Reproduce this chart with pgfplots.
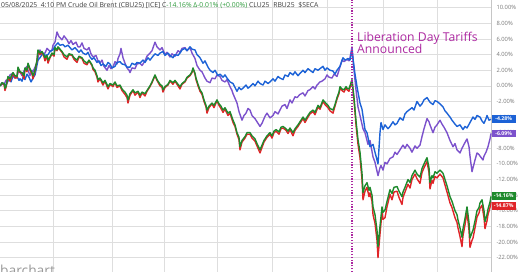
\documentclass[border=0pt]{standalone}
\usepackage{fontspec}
\setmainfont{Open Sans}
\usepackage{pgfplots}
\pgfplotsset{compat=1.18}
\definecolor{cblue}{RGB}{28,98,214}
\definecolor{cpurple}{RGB}{124,82,204}
\definecolor{cgreen}{RGB}{30,138,44}
\definecolor{cred}{RGB}{224,36,40}
\definecolor{cmag}{RGB}{172,40,160}
\definecolor{gridc}{RGB}{222,222,222}
\definecolor{tickc}{RGB}{120,120,120}
\definecolor{hdr}{RGB}{60,60,60}
\definecolor{hgreen}{RGB}{46,154,60}
\begin{document}
\begin{tikzpicture}
\path[use as bounding box] (0pt,0pt) rectangle (520pt,272pt);
\begin{axis}[at={(0pt,0pt)}, anchor=south west, scale only axis,
  width=491pt, height=272pt,
  xmin=0, xmax=491, ymin=-23.85, ymax=11,
  axis line style={draw=none},
  xtick={53,112,164,217,272,327,383,437}, xticklabels={},
  ytick={-22,-20,...,10},
  yticklabel pos=right,
  /pgf/number format/assume math mode=true,
  yticklabel={\pgfmathprintnumber[fixed,fixed zerofill,precision=2,assume math mode=true]{\tick}\%},
  yticklabel style={font=\fontsize{5.8}{7}\selectfont, text=tickc, anchor=west, xshift=2pt},
  major tick length=0pt,
  grid=major, major grid style={gridc, line width=0.6pt},
  clip=false,
  every axis plot/.append style={line width=1.4pt, line join=round},
]
\draw[gray!45, line width=0.6pt] (axis cs:491,-23.85) -- (axis cs:491,11);
% purple
\addplot[cpurple] coordinates {
(0,0) (2,0.4) (4,0.2) (6,0.7) (8,0.8) (10,1.4) (13,1.6) (15,1.1) (17,1.3) (19,2.0) (20,1.8) (22,1.3) (23,1.6) (25,2.2) (27,2.5) (28,2.0) (30,1.3) (32,2.0) (33,1.8) (35,2.4) (37,3.0) (39,4.2) (40,4.6) (42,4.0) (45,4.2) (47,4.8) (50,4.4) (52,4.6) (53,5.2) (55,5.6) (57,6.9) (59,6.3) (62,5.9) (64,6.4) (67,5.9) (69,5.4) (71,5.8) (73,5.3) (76,5.6) (78,5.0) (80,5.0) (82,5.5) (84,4.8) (87,4.6) (89,4.9) (91,4.1) (93,3.7) (96,3.9) (98,3.2) (100,2.9) (102,3.3) (104,2.5) (107,2.0) (109,2.6) (111,2.2) (113,2.4) (115,3.1) (117,2.8) (118,3.5) (120,4.1) (121,4.8) (123,3.6) (125,2.9) (127,2.3) (129,2.0) (130,1.7) (132,2.3) (135,2.2) (137,2.8) (140,2.9) (142,2.6) (145,3.2) (147,3.8) (150,4.2) (152,4.5) (155,5.6) (157,5.0) (160,4.6) (162,4.9) (165,4.0) (167,4.3) (170,3.7) (172,4.1) (175,3.8) (178,4.5) (180,4.3) (182,4.8) (185,4.9) (187,4.5) (190,4.9) (192,4.2) (195,3.5) (197,2.6) (200,2.0) (202,1.8) (205,1.0) (207,0.6) (210,0.4) (212,1.0) (215,0.9) (217,1.4) (220,1.2) (222,0.7) (225,0.5) (227,0.8) (230,-0.1) (232,-0.6) (233,-1.0) (235,-1.6) (237,-2.2) (239,-3.3) (242,-4.4) (244,-3.8) (246,-3.5) (248,-2.9) (250,-3.1) (252,-3.8) (255,-4.2) (257,-4.6) (260,-5.2) (262,-4.8) (263,-4.5) (265,-3.9) (267,-3.5) (270,-4.1) (273,-3.8) (275,-3.3) (278,-3.6) (280,-3.1) (282,-2.6) (285,-2.4) (287,-2.9) (290,-1.8) (292,-2.2) (295,-1.4) (297,-1.5) (300,-1.1) (303,-0.9) (305,-1.3) (308,-0.6) (310,-0.5) (313,-0.1) (315,-0.4) (317,0.1) (320,0.5) (322,0.6) (325,0.9) (327,1.4) (329,1.1) (332,1.0) (334,1.5) (337,1.2) (339,2.0) (342,3.3) (344,3.1) (347,3.4) (349,3.2) (350,3.6) (352,5.0) (354,2.0) (356,-0.5) (358,-2.7) (360,-3.8) (363,-5.5) (365,-6.0) (368,-7.5) (370,-7.0) (373,-9.1) (375,-9.8) (378,-11.5) (380,-10.5) (381,-10.2) (383,-10.8) (385,-9.8) (387,-10.0) (390,-9.3) (393,-9.1) (395,-8.5) (397,-8.8) (400,-8.2) (403,-7.6) (405,-8.0) (407,-7.5) (410,-8.0) (412,-8.5) (415,-7.7) (417,-8.0) (420,-7.6) (422,-6.5) (424,-5.5) (427,-4.2) (429,-4.6) (430,-5.0) (433,-6.0) (435,-5.3) (437,-5.0) (440,-4.4) (442,-4.9) (444,-5.3) (447,-6.0) (450,-7.0) (453,-7.8) (455,-7.4) (457,-8.2) (460,-8.6) (462,-8.0) (464,-7.5) (467,-6.8) (469,-7.8) (470,-9.0) (472,-11.0) (474,-10.0) (475,-9.5) (477,-8.6) (479,-8.8) (480,-9.0) (483,-9.5) (484,-9.0) (486,-8.5) (488,-7.8) (490,-6.8) (491,-6.09)
};
% blue
\addplot[cblue] coordinates {
(0,0) (2,0.2) (4,0.3) (6,0.1) (8,0.6) (10,0.8) (11,0.5) (13,1.3) (15,1.0) (17,1.2) (19,0.7) (20,0.9) (22,0.6) (23,1.1) (25,0.8) (27,1.5) (29,1.1) (30,0.8) (31,0.5) (33,1.0) (35,1.4) (36,2.0) (38,3.3) (40,3.6) (43,4.2) (45,3.9) (48,4.0) (50,4.4) (53,4.6) (55,5.1) (58,5.5) (60,5.2) (63,5.3) (65,5.0) (68,5.2) (70,4.9) (72,4.6) (75,4.9) (77,4.6) (79,4.3) (81,4.6) (83,4.2) (86,4.0) (88,4.3) (90,3.7) (92,3.4) (94,3.6) (97,3.0) (99,3.2) (101,2.6) (103,2.8) (106,2.5) (108,3.0) (110,2.8) (112,2.3) (115,2.5) (117,3.0) (120,3.1) (122,2.8) (125,2.7) (127,2.4) (130,2.4) (132,2.9) (135,2.7) (137,3.0) (140,2.9) (143,3.3) (145,3.0) (148,3.6) (150,3.3) (153,3.8) (155,4.1) (158,3.9) (160,4.2) (163,4.4) (165,3.9) (168,4.2) (170,3.9) (173,3.6) (175,4.0) (178,3.9) (180,4.2) (182,4.6) (185,4.8) (187,4.5) (190,5.0) (192,4.7) (195,4.6) (197,4.0) (200,3.6) (203,2.9) (205,3.2) (208,2.4) (210,2.0) (213,1.7) (215,2.0) (218,1.3) (220,1.5) (223,1.1) (225,1.4) (227,1.0) (230,0.5) (233,0.3) (235,-0.2) (237,-0.7) (239,-0.2) (241,-0.5) (243,-0.3) (246,0.1) (248,-0.3) (250,-0.1) (253,0.3) (255,0.0) (258,0.6) (260,0.3) (263,0.1) (265,0.6) (268,0.3) (270,0.5) (273,0.9) (275,0.6) (278,1.2) (280,1.0) (283,0.8) (285,1.4) (288,1.2) (290,1.7) (293,1.4) (295,1.8) (298,1.3) (300,1.6) (303,2.0) (305,1.7) (308,2.2) (310,2.0) (313,1.7) (315,2.2) (318,2.0) (320,2.2) (323,2.5) (325,2.0) (327,2.3) (330,2.0) (333,1.9) (335,1.5) (337,2.0) (340,2.5) (343,3.6) (345,3.3) (348,3.5) (350,3.3) (352,4.5) (355,1.5) (357,-0.1) (360,-2.2) (362,-3.0) (365,-5.6) (367,-6.0) (370,-7.8) (373,-7.5) (375,-8.5) (378,-10.0) (380,-6.0) (381,-4.7) (383,-5.6) (385,-5.0) (388,-5.5) (390,-5.2) (393,-4.6) (395,-5.0) (397,-4.8) (400,-4.1) (403,-4.4) (405,-3.6) (407,-3.3) (410,-3.0) (412,-2.8) (414,-3.1) (417,-2.0) (420,-2.6) (422,-2.3) (424,-1.8) (427,-1.5) (430,-2.1) (433,-2.4) (435,-1.9) (437,-2.0) (440,-2.3) (443,-2.7) (445,-3.2) (447,-3.5) (450,-4.0) (452,-4.4) (455,-4.9) (457,-5.2) (460,-5.0) (463,-5.6) (465,-5.2) (467,-5.4) (470,-4.7) (473,-4.0) (475,-4.3) (477,-3.8) (480,-4.0) (482,-4.5) (484,-4.8) (486,-4.2) (487,-3.8) (489,-4.4) (491,-4.28)
};
% red
\addplot[cred] coordinates {
(0,0) (2,0.3) (4,0.2) (5,-0.6) (6,-0.2) (8,1.1) (10,0.6) (13,1.6) (15,1.0) (17,1.0) (18,2.3) (20,1.7) (22,1.6) (24,0.9) (25,2.2) (27,1.8) (28,2.8) (30,2.0) (32,1.5) (33,0.9) (35,1.9) (37,3.2) (38,4.5) (40,4.0) (42,4.3) (44,3.7) (45,3.2) (47,3.8) (48,2.9) (50,3.6) (52,4.1) (54,3.8) (55,4.8) (57,4.5) (58,4.9) (60,4.6) (62,4.3) (64,3.7) (67,3.4) (69,4.0) (72,3.9) (74,3.4) (77,3.0) (79,3.7) (82,3.5) (84,2.9) (87,2.7) (89,3.2) (92,2.6) (93,2.1) (95,1.8) (97,1.1) (98,0.5) (100,0.9) (103,0.1) (105,0.6) (108,-0.4) (110,0.2) (113,-0.1) (115,0.4) (117,-0.2) (120,0.0) (122,-0.6) (125,-1.1) (127,-1.5) (128,-2.2) (130,-1.2) (133,-0.6) (135,-1.2) (138,-0.8) (140,-1.5) (142,-0.9) (145,-1.3) (147,-0.7) (150,-0.1) (152,0.4) (155,1.3) (157,0.7) (160,0.0) (162,-0.2) (163,-0.8) (165,-0.2) (168,0.1) (170,0.6) (173,0.2) (175,0.6) (178,0.0) (180,-0.4) (182,0.2) (185,0.5) (187,1.0) (190,1.3) (192,1.7) (193,2.2) (195,1.5) (196,0.8) (198,0.0) (200,-0.7) (202,-1.1) (204,-2.0) (206,-2.7) (207,-3.5) (209,-2.8) (212,-2.3) (214,-2.8) (217,-1.9) (219,-2.5) (221,-2.9) (223,-3.4) (225,-3.0) (228,-3.8) (230,-3.5) (233,-4.7) (235,-5.2) (237,-6.2) (239,-6.9) (240,-8.2) (242,-7.2) (245,-6.7) (247,-6.2) (250,-6.2) (252,-6.7) (255,-7.1) (257,-7.7) (260,-8.6) (262,-7.9) (264,-7.2) (267,-6.6) (270,-6.2) (272,-6.7) (274,-6.0) (276,-5.8) (279,-6.2) (281,-5.5) (283,-5.4) (286,-5.7) (288,-6.1) (290,-5.6) (293,-6.4) (295,-5.7) (298,-5.2) (300,-4.8) (303,-4.2) (305,-4.7) (308,-4.0) (310,-3.6) (313,-3.3) (315,-3.7) (318,-2.7) (320,-3.0) (323,-2.0) (325,-2.4) (328,-2.8) (330,-3.2) (333,-3.5) (335,-2.6) (337,-1.7) (339,-1.0) (340,-0.3) (342,-0.6) (344,-0.8) (346,-0.3) (347,-0.5) (349,-0.7) (350,-0.2) (352,0.6) (354,-1.8) (356,-5.0) (358,-7.5) (360,-9.2) (362,-12.0) (363,-14.6) (365,-13.5) (367,-13.0) (369,-14.2) (370,-13.7) (372,-14.8) (373,-16.5) (375,-17.6) (377,-19.8) (378,-22.0) (380,-19.0) (382,-16.2) (383,-17.1) (385,-16.9) (387,-15.5) (390,-13.9) (392,-14.6) (394,-13.6) (397,-13.5) (399,-14.3) (402,-15.2) (403,-14.3) (405,-13.6) (408,-12.6) (410,-13.1) (412,-12.0) (415,-11.3) (417,-11.9) (420,-12.5) (422,-11.1) (424,-10.5) (427,-9.7) (429,-11.1) (430,-13.2) (432,-12.1) (433,-12.5) (435,-11.6) (437,-11.8) (440,-11.3) (443,-11.8) (445,-12.7) (447,-13.6) (450,-15.0) (452,-15.6) (455,-16.9) (457,-17.5) (458,-18.2) (460,-19.3) (462,-20.6) (463,-19.2) (465,-17.8) (467,-16.2) (469,-18.5) (470,-20.7) (472,-19.8) (473,-19.5) (475,-18.2) (477,-16.8) (479,-16.3) (480,-15.7) (482,-15.3) (484,-16.9) (485,-18.3) (487,-17.3) (488,-16.5) (490,-15.6) (491,-14.87)
};
% green
\addplot[cgreen] coordinates {
(0,0) (2,0.4) (4,0.3) (5,-0.3) (6,-0.1) (8,1.2) (10,0.9) (13,1.7) (15,1.3) (17,1.2) (18,2.4) (20,1.8) (22,1.7) (24,1.3) (25,2.3) (27,2.0) (28,2.9) (30,2.2) (32,1.7) (33,1.3) (35,2.0) (37,3.3) (38,4.6) (40,4.2) (42,4.4) (44,3.9) (45,3.6) (47,3.9) (48,3.3) (50,3.7) (52,4.2) (54,4.0) (55,4.9) (57,4.6) (58,5.0) (60,4.7) (62,4.4) (64,4.0) (67,3.7) (69,4.1) (72,4.0) (74,3.6) (77,3.3) (79,3.8) (82,3.6) (84,3.2) (87,2.9) (89,3.3) (92,2.7) (93,2.3) (95,2.0) (97,1.3) (98,0.8) (100,1.0) (103,0.4) (105,0.7) (108,-0.1) (110,0.3) (113,0.1) (115,0.5) (117,0.0) (120,0.1) (122,-0.4) (125,-0.8) (127,-1.2) (128,-1.8) (130,-1.0) (133,-0.5) (135,-0.9) (138,-0.7) (140,-1.2) (142,-0.8) (145,-1.0) (147,-0.6) (150,0.0) (152,0.5) (155,1.4) (157,0.8) (160,0.2) (162,0.0) (163,-0.5) (165,-0.1) (168,0.2) (170,0.7) (173,0.4) (175,0.7) (178,0.2) (180,-0.1) (182,0.3) (185,0.6) (187,1.1) (190,1.4) (192,1.8) (193,2.3) (195,1.6) (196,1.0) (198,0.2) (200,-0.5) (202,-0.9) (204,-1.8) (206,-2.5) (207,-3.1) (209,-2.6) (212,-2.2) (214,-2.5) (217,-1.8) (219,-2.3) (221,-2.6) (223,-3.1) (225,-2.8) (228,-3.5) (230,-3.3) (233,-4.4) (235,-5.0) (237,-6.0) (239,-6.6) (240,-7.8) (242,-7.0) (245,-6.5) (247,-6.0) (250,-6.0) (252,-6.4) (255,-6.8) (257,-7.4) (260,-8.2) (262,-7.6) (264,-7.0) (267,-6.4) (270,-6.0) (272,-6.4) (274,-5.8) (276,-5.6) (279,-5.9) (281,-5.3) (283,-5.2) (286,-5.5) (288,-5.8) (290,-5.4) (293,-6.0) (295,-5.5) (298,-5.0) (300,-4.6) (303,-4.0) (305,-4.4) (308,-3.8) (310,-3.4) (313,-3.1) (315,-3.4) (318,-2.5) (320,-2.8) (323,-1.8) (325,-2.1) (328,-2.5) (330,-2.9) (333,-3.1) (335,-2.4) (337,-1.5) (339,-0.8) (340,-0.1) (342,-0.4) (344,-0.5) (346,-0.1) (347,-0.3) (349,-0.4) (350,0.0) (352,0.8) (354,-1.5) (356,-4.5) (358,-6.9) (360,-8.5) (362,-11.2) (363,-13.7) (365,-12.8) (367,-12.4) (369,-13.4) (370,-13.0) (372,-14.0) (373,-15.5) (375,-16.5) (377,-18.5) (378,-20.6) (380,-18.0) (382,-15.5) (383,-16.2) (385,-15.9) (387,-14.8) (390,-13.3) (392,-13.8) (394,-13.0) (397,-12.9) (399,-13.5) (402,-14.2) (403,-13.6) (405,-13.0) (408,-12.0) (410,-12.4) (412,-11.5) (415,-10.8) (417,-11.3) (420,-11.7) (422,-10.6) (424,-10.0) (427,-9.2) (429,-10.5) (430,-12.4) (432,-11.5) (433,-11.8) (435,-11.0) (437,-11.2) (440,-10.8) (443,-11.2) (445,-12.0) (447,-12.8) (450,-14.2) (452,-14.8) (455,-16.0) (457,-16.5) (458,-17.2) (460,-18.2) (462,-19.4) (463,-18.3) (465,-17.0) (467,-15.5) (469,-17.5) (470,-19.5) (472,-18.8) (473,-18.5) (475,-17.3) (477,-16.0) (479,-15.6) (480,-15.0) (482,-14.6) (484,-16.0) (485,-17.4) (487,-16.5) (488,-15.8) (490,-14.9) (491,-14.16)
};
\draw[cmag, line width=1.1pt, dash pattern=on 1.2pt off 1.6pt] (axis cs:352,-23.85) -- (axis cs:352,11);
\end{axis}
% tags
\begin{scope}[every node/.style={text=white, font=\fontsize{5.2}{6}\selectfont\bfseries, inner sep=0pt, minimum width=24pt, minimum height=7.5pt, anchor=west}]
\node[fill=cblue] at (491.5pt,153pt) {-4.28\%};
\node[fill=cpurple] at (491.5pt,138.5pt) {-6.09\%};
\node[fill=cgreen] at (491.5pt,76pt) {-14.16\%};
\node[fill=cred] at (491.5pt,66pt) {-14.87\%};
\end{scope}
% annotation
\node[anchor=base west, inner sep=0pt, text=cmag, font=\fontsize{12.2}{14}\selectfont] at (357pt,230.3pt) {Liberation Day Tariffs};
\node[anchor=base west, inner sep=0pt, text=cmag, font=\fontsize{12.2}{14}\selectfont] at (357pt,218.7pt) {Announced};
% header
\node[anchor=base west, inner sep=0pt, text=hdr, font=\fontsize{6.8}{8}\selectfont] at (1pt,264.8pt) {05/08/2025\ \ 4:10 PM Crude Oil Brent (CBU25) [ICE] C\textcolor{hgreen}{-14.16\% Δ-0.01\% (+0.00\%)} CLU25\hspace{2pt} RBU25\hspace{2pt} \$SECA};
% logo
\node[anchor=base west, inner sep=0pt, text=gray!80, font=\fontsize{13.8}{15}\selectfont] at (0pt,-3.5pt) {barchart};
\end{tikzpicture}
\end{document}
